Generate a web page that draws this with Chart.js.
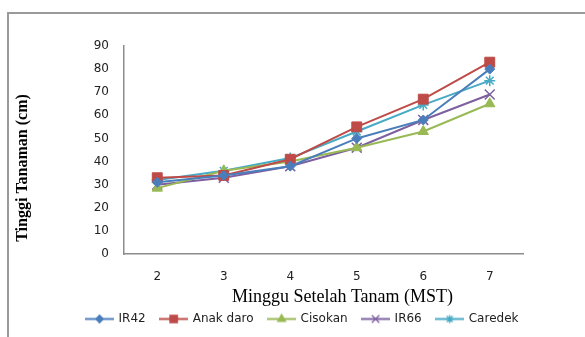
<!DOCTYPE html>
<html>
<head>
<meta charset="utf-8">
<script src="https://cdn.jsdelivr.net/npm/chart.js@4/dist/chart.umd.min.js"></script>
<style>
  body { margin: 0; background: #fff; }
  canvas { display: block; }
</style>
</head>
<body>
<canvas id="growthChart" width="585" height="337"></canvas>
<script>
// Tinggi tanaman per minggu (MST)

const weeks = ["2", "3", "4", "5", "6", "7"];

const ir42     = [31, 34, 38, 50, 58, 80];
const anakDaro = [33, 34, 41, 55, 67, 83];
const cisokan  = [28.5, 36, 40, 46, 53, 65];
const ir66     = [30, 33, 38, 46, 58, 69];
const caredek  = [32, 36, 41.5, 53, 64.5, 75];

const yTicksMin = 0;
const yTicksMax = 90;
const yTicksStep = 10;

const xTitle = "Minggu Setelah Tanam (MST)";
const yTitle = "Tinggi Tanaman (cm)";

// =======================
// Series styling
// =======================

function series(label, data, color, style, radius) {
    return {
        label: label,
        data: data,
        borderColor: color,
        backgroundColor: color,
        borderWidth: 2,
        pointStyle: style,
        pointRadius: radius,
        pointHoverRadius: radius,
        pointBorderWidth: (style === "crossRot" || style === "star") ? 1.5 : 1,
        pointBackgroundColor: color,
        pointBorderColor: color,
        tension: 0
    };
}

const datasets = [
    series("IR42", ir42, "#4a7ebb", "rectRot", 5),
    series("Anak daro", anakDaro, "#be4b48", "rect", 7),
    series("Cisokan", cisokan, "#98b954", "triangle", 6),
    series("IR66", ir66, "#7d60a0", "crossRot", 7),
    series("Caredek", caredek, "#46aac5", "star", 5.5)
];

// legend icon: short line with the marker in the middle
function legendIcon(ds) {
    const c = document.createElement("canvas");
    c.width = 29;
    c.height = 13;
    const g = c.getContext("2d");
    g.strokeStyle = ds.borderColor;
    g.fillStyle = ds.borderColor;
    g.lineWidth = 2;
    g.beginPath();
    g.moveTo(0, 6.5);
    g.lineTo(29, 6.5);
    g.stroke();
    g.lineWidth = 1.3;
    Chart.helpers.drawPoint(g, {
        pointStyle: ds.pointStyle,
        radius: ds.pointRadius * 0.75,
        rotation: 0,
        borderWidth: 1
    }, 14.5, 6.5);
    return c;
}

// =======================
// Frame and axis titles
// =======================

const framePlugin = {
    id: "frame",
    beforeDraw(chart) {
        const ctx = chart.ctx;
        ctx.save();
        ctx.strokeStyle = "#9a9a9a";
        ctx.lineWidth = 2;
        ctx.beginPath();
        ctx.moveTo(8, chart.height);
        ctx.lineTo(8, 13);
        ctx.lineTo(chart.width, 13);
        ctx.stroke();
        ctx.restore();
    },
    afterDraw(chart) {
        const ctx = chart.ctx;
        const area = chart.chartArea;
        ctx.save();
        ctx.fillStyle = "#000";
        ctx.textAlign = "center";
        ctx.textBaseline = "middle";

        ctx.font = "18px 'Liberation Serif'";
        ctx.fillText(xTitle, (area.left + area.right) / 2 + 19, 297);

        ctx.font = "bold 16px 'Liberation Serif'";
        ctx.translate(23, (area.top + area.bottom) / 2 + 18);
        ctx.rotate(-Math.PI / 2);
        ctx.fillText(yTitle, 0, 0);
        ctx.restore();
    }
};

const tickFont = { family: "'DejaVu Sans'", size: 12 };

new Chart(document.getElementById("growthChart"), {
    type: "line",
    data: { labels: weeks, datasets: datasets },
    options: {
        responsive: false,
        animation: false,
        layout: { padding: { left: 20, right: 0, top: 46, bottom: 2 } },
        plugins: {
            tooltip: { enabled: false },
            legend: {
                position: "bottom",
                labels: {
                    usePointStyle: true,
                    pointStyleWidth: 26,
                    padding: 15,
                    color: "#222",
                    font: { family: "'DejaVu Sans'", size: 12 },
                    generateLabels(chart) {
                        const items = Chart.defaults.plugins.legend.labels.generateLabels(chart);
                        items.forEach(function (item) {
                            item.pointStyle = legendIcon(chart.data.datasets[item.datasetIndex]);
                        });
                        return items;
                    }
                }
            }
        },
        scales: {
            x: {
                offset: true,
                grid: { display: false, drawTicks: false },
                border: { display: true, color: "#8c8c8c", width: 1.5 },
                ticks: { color: "#222", font: tickFont, padding: 16, maxRotation: 0 },
                afterFit(s) { s.height = 44; }
            },
            y: {
                min: yTicksMin,
                max: yTicksMax,
                grid: { display: false, drawTicks: false },
                border: { display: true, color: "#8c8c8c", width: 1.5 },
                ticks: { stepSize: yTicksStep, color: "#222", font: tickFont, padding: 15 },
                afterFit(s) { s.width = 104; }
            },
            spacer: {
                position: "right",
                grid: { display: false, drawTicks: false },
                border: { display: false },
                ticks: { display: false },
                afterFit(s) { s.width = 62; }
            }
        }
    },
    plugins: [framePlugin]
});
</script>
</body>
</html>
